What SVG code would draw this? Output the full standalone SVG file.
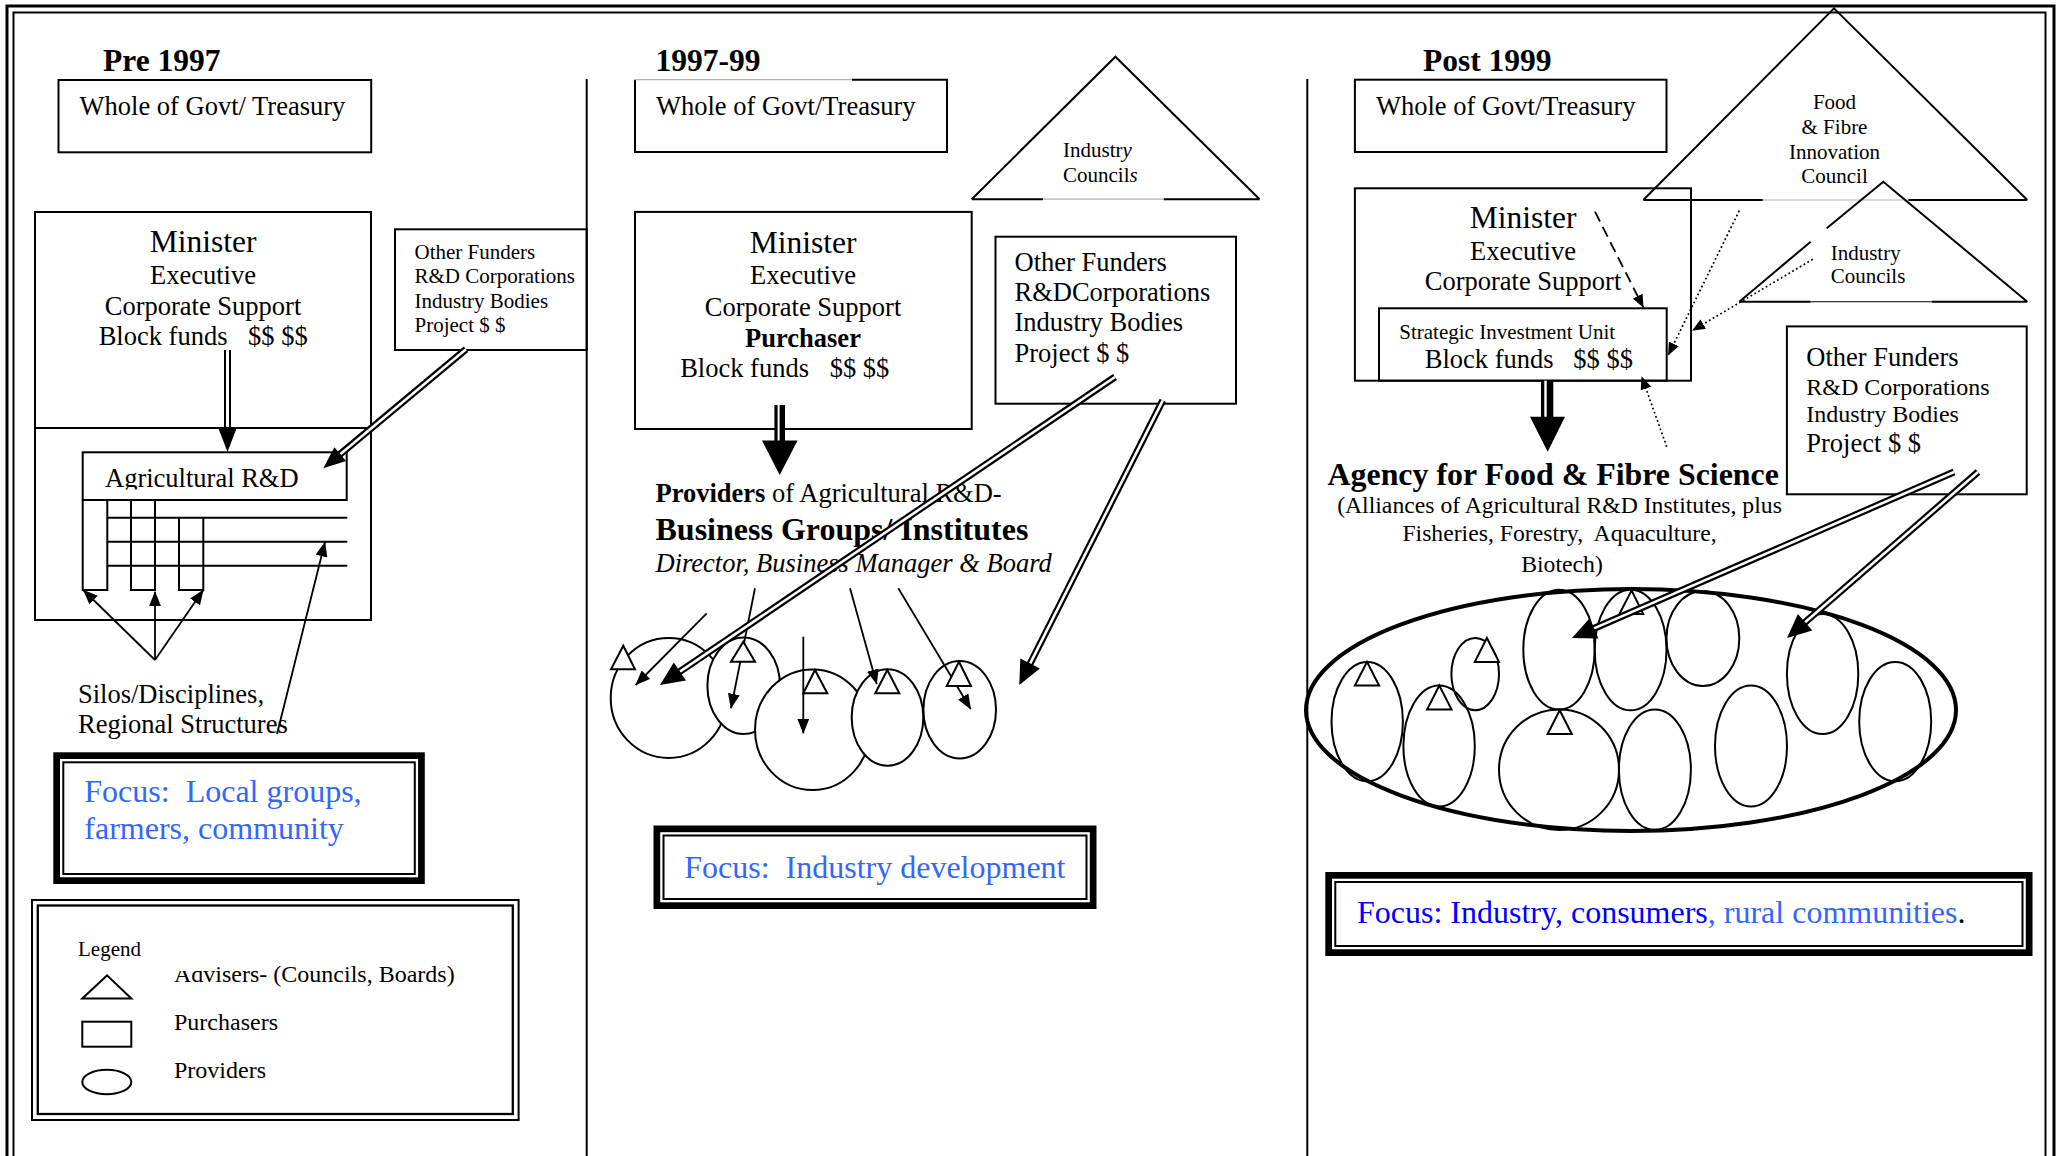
<svg xmlns="http://www.w3.org/2000/svg" width="2062" height="1156" viewBox="0 0 2062 1156">
<style>
.f{font-family:'Liberation Serif','Times New Roman',serif;fill:#000}
.s21{font-size:21px}.s24{font-size:24px}.s23{font-size:23.7px}.s26{font-size:26.5px}.s31{font-size:31.5px}.s32{font-size:32px}
.b{font-weight:bold}.i{font-style:italic}.c{text-anchor:middle}
.ln{fill:none;stroke:#000;stroke-width:2}
.wf{fill:#fff;stroke:#000;stroke-width:2}
.gr{fill:none;stroke:#b0b0b0;stroke-width:1.2}
.ar{fill:none;stroke:#000;stroke-width:1.8}
.dot{fill:none;stroke:#000;stroke-width:1.7;stroke-dasharray:1.8 2.6}
.dsh{fill:none;stroke:#000;stroke-width:1.8;stroke-dasharray:11 6}
.dbo{fill:none;stroke:#000;stroke-width:7}
.dbi{fill:none;stroke:#fff;stroke-width:2.6}
.fo{fill:none;stroke:#000;stroke-width:6.7}
.fi{fill:none;stroke:#000;stroke-width:2}
.bl{fill:#3366ff}.bd{fill:#0000ff}
</style>
<defs>
<marker id="ah" markerUnits="userSpaceOnUse" viewBox="0 0 15 12" markerWidth="15" markerHeight="12" refX="14.5" refY="6" orient="auto"><path d="M0,0 L15,6 L0,12 z" fill="#000"/></marker>
<marker id="ahs" markerUnits="userSpaceOnUse" viewBox="0 0 13 11" markerWidth="13" markerHeight="11" refX="12.5" refY="5.5" orient="auto"><path d="M0,0 L13,5.5 L0,11 z" fill="#000"/></marker>
<clipPath id="clipAg"><rect x="80" y="450" width="270" height="39.5"/></clipPath>
<clipPath id="clipAdv"><rect x="160" y="971" width="43.5" height="30"/><rect x="203.5" y="950" width="320" height="50"/></clipPath>
</defs>

<g id="frame">
<rect x="7" y="6" width="2047" height="1170" fill="none" stroke="#000" stroke-width="3"/>
<rect x="13.5" y="12.5" width="2032" height="1160" fill="none" stroke="#000" stroke-width="2"/>
<line x1="586.7" y1="79" x2="586.7" y2="1160" stroke="#000" stroke-width="2"/>
<line x1="1307.3" y1="79" x2="1307.3" y2="1160" stroke="#000" stroke-width="2"/>
</g>

<!-- LEFT PANEL -->
<g id="pre1997-title"><text class="f s31 b" x="103" y="71">Pre 1997</text></g>
<g id="pre-treasury">
<rect class="ln" x="58.5" y="80" width="312.7" height="72.3"/>
<text class="f s26" x="79.6" y="115">Whole of Govt/ Treasury</text>
</g>
<g id="pre-minister">
<rect class="ln" x="35" y="212" width="336" height="408"/>
<line class="ln" x1="35" y1="428" x2="371" y2="428"/>
<text class="f s31 c" x="203" y="252">Minister</text>
<text class="f s26 c" x="203" y="283.5">Executive</text>
<text class="f s26 c" x="203" y="315">Corporate Support</text>
<text class="f s26" x="98.7" y="345">Block funds<tspan x="248">$$ $$</tspan></text>
</g>
<g id="pre-agrd">
<rect class="ln" x="82.7" y="452.3" width="264" height="47.7"/>
<text class="f s26" x="105" y="486.7" clip-path="url(#clipAg)">Agricultural R&amp;D</text>
<path class="ln" d="M82.7,500 V590 H107.3 V500 M131,500 V590 H155 V500 M179,517.7 V590 H203.3 V517.7 M107.3,517.7 H347.3 M107.3,541.7 H347.3 M107.3,565.7 H347.3"/>
</g>
<g id="pre-otherfunders">
<rect class="ln" x="395" y="229.3" width="191.7" height="120.7"/>
<text class="f s21" x="414.5" y="259">Other Funders</text>
<text class="f s21" x="414.5" y="283.3">R&amp;D Corporations</text>
<text class="f s21" x="414.5" y="308.3">Industry Bodies</text>
<text class="f s21" x="414.5" y="331.7">Project $ $</text>
</g>
<g id="pre-silos">
<text class="f s26" x="78" y="703" textLength="186" lengthAdjust="spacing">Silos/Disciplines,</text>
<text class="f s26" x="78" y="733">Regional Structures</text>
</g>
<g id="pre-focus">
<rect class="fo" x="56.65" y="755.65" width="364.8" height="125"/>
<rect class="fi" x="63.3" y="762.3" width="351.5" height="111.7"/>
<text class="f s32 bl" x="84.3" y="802.3" xml:space="preserve">Focus:  Local groups,</text>
<text class="f s32 bl" x="84.3" y="839.3">farmers, community</text>
</g>
<g id="legend">
<rect x="32" y="900" width="486.6" height="220" fill="none" stroke="#000" stroke-width="2"/>
<rect x="37.8" y="905.5" width="475" height="208.5" fill="none" stroke="#000" stroke-width="2.3"/>
<text class="f s21" x="78" y="955.5">Legend</text>
<polygon class="ln" points="82.3,998.5 131.3,998.5 107,975.4"/>
<rect class="ln" x="82.3" y="1021.7" width="49" height="25"/>
<ellipse class="ln" cx="106.8" cy="1082" rx="24.5" ry="12.3"/>
<text class="f s24" x="174" y="982" clip-path="url(#clipAdv)">Advisers- (Councils, Boards)</text>
<text class="f s24" x="174" y="1030">Purchasers</text>
<text class="f s24" x="174" y="1078">Providers</text>
</g>
<g id="pre-connectors">
<line class="ln" x1="225" y1="350" x2="225" y2="429"/>
<line class="ln" x1="230" y1="350" x2="230" y2="429"/>
<polygon points="218.3,428 236.7,428 227.5,452" fill="#000"/>
<line class="dbo" x1="466" y1="349.3" x2="339.4" y2="454.8"/>
<line class="dbi" x1="466" y1="349.3" x2="340.2" y2="454.2"/>
<polygon points="323.3,468.3 334.4,447.3 346,461.1" fill="#000"/>
<line class="ar" x1="155" y1="660" x2="83.3" y2="590" marker-end="url(#ah)"/>
<line class="ar" x1="155" y1="660" x2="155" y2="591.7" marker-end="url(#ah)"/>
<line class="ar" x1="155" y1="660" x2="203.3" y2="590" marker-end="url(#ah)"/>
<line class="ar" x1="277" y1="734" x2="325" y2="542" marker-end="url(#ah)"/>
</g>

<!-- MIDDLE PANEL -->
<g id="mid-title"><text class="f s31 b" x="655.5" y="71">1997-99</text></g>
<g id="mid-treasury">
<path class="ln" d="M852,79.7 H947 V152 H635 V79.7"/>
<line class="gr" x1="635" y1="79.7" x2="852" y2="79.7"/>
<text class="f s26" x="656" y="115">Whole of Govt/Treasury</text>
</g>
<g id="mid-industry-councils">
<path class="ln" d="M971.7,199.2 L1115.4,56.7 L1259.6,199.2 M971.7,199.2 H1043 M1163.6,199.2 H1259.6"/>
<line class="gr" x1="1043" y1="199.2" x2="1163.6" y2="199.2"/>
<text class="f s21" x="1063" y="156.5">Industr<tspan class="i">y</tspan></text>
<text class="f s21" x="1063" y="181.5">Council<tspan class="i">s</tspan></text>
</g>
<g id="mid-minister">
<rect class="ln" x="635" y="211.9" width="336.7" height="217.1"/>
<text class="f s31 c" x="803" y="252.7">Minister</text>
<text class="f s26 c" x="803" y="283.5">Executive</text>
<text class="f s26 c" x="803" y="316">Corporate Support</text>
<text class="f s26 c b" x="803" y="346.5">Purchaser</text>
<text class="f s26" x="680.2" y="377.2">Block funds<tspan x="829.7">$$ $$</tspan></text>
</g>
<g id="mid-otherfunders">
<rect class="ln" x="995.5" y="236.7" width="240.5" height="167"/>
<text class="f s26" x="1014.5" y="270.5">Other Funders</text>
<text class="f s26" x="1014.5" y="301">R&amp;DCorporations</text>
<text class="f s26" x="1014.5" y="331.4">Industry Bodies</text>
<text class="f s26" x="1014.5" y="361.8">Project $ $</text>
</g>
<g id="mid-providers">
<text class="f s26" x="655.5" y="502.3"><tspan class="b">Providers</tspan> of Agricultural R&amp;D-</text>
<text class="f s32 b" x="655.5" y="539.5">Business Groups/ Institutes</text>
<text class="f s26 i" x="655.5" y="571.5">Director, Business Manager &amp; Board</text>
</g>
<g id="mid-groups">
<ellipse class="wf" cx="668.7" cy="698" rx="58" ry="60"/>
<ellipse class="wf" cx="743.7" cy="685.7" rx="36.3" ry="48.3"/>
<ellipse class="wf" cx="812.5" cy="729.7" rx="57.5" ry="60.3"/>
<ellipse class="wf" cx="887.5" cy="717.5" rx="35.8" ry="48.2"/>
<ellipse class="wf" cx="959.7" cy="709.7" rx="36.3" ry="48.7"/>
</g>
<g id="mid-connectors">
<line class="ar" x1="706.7" y1="613.3" x2="635.7" y2="685" marker-end="url(#ah)"/>
<line class="ar" x1="755" y1="588.3" x2="731" y2="708.3" marker-end="url(#ah)"/>
<line class="ar" x1="803.3" y1="636.7" x2="803.3" y2="733.3" marker-end="url(#ah)"/>
<line class="ar" x1="850" y1="588.3" x2="876.7" y2="684" marker-end="url(#ah)"/>
<line class="ar" x1="898.3" y1="588.3" x2="970.7" y2="709" marker-end="url(#ah)"/>
</g>
<g id="mid-advisers">
<polygon class="wf" points="611,669.3 635,669.3 623.3,645.7"/>
<polygon class="wf" points="731,661.7 755,661.7 743.3,641.7"/>
<polygon class="wf" points="803.3,693.3 827.3,693.3 815,670"/>
<polygon class="wf" points="875.3,693.3 899.3,693.3 887.3,670"/>
<polygon class="wf" points="946.7,686 971,686 959,661.7"/>
</g>
<g id="mid-funding-arrows">
<rect x="774.4" y="405" width="10.6" height="36" fill="#000"/>
<rect x="777.6" y="405" width="2" height="36" fill="#fff"/>
<polygon points="762,440.5 797.6,440.5 779.7,475" fill="#000"/>
<line class="dbo" x1="1115" y1="377" x2="679" y2="672.2"/>
<line class="dbi" x1="1115" y1="377" x2="679.9" y2="671.6"/>
<polygon points="660,685 673.8,662.5 686,680.6" fill="#000"/>
<line class="dbo" x1="1162.8" y1="400.4" x2="1029.7" y2="664.5"/>
<line class="dbi" x1="1162.8" y1="400.4" x2="1030.1" y2="663.6"/>
<polygon points="1019.3,685 1020.3,658.6 1039.9,668.6" fill="#000"/>
</g>
<g id="mid-focus">
<rect class="fo" x="656.85" y="828.85" width="436.3" height="76.8"/>
<rect class="fi" x="663.5" y="835.5" width="423" height="63.5"/>
<text class="f s32 bl" x="684.2" y="877.5" xml:space="preserve">Focus:  Industry development</text>
</g>

<!-- RIGHT PANEL -->
<g id="post-title"><text class="f s31 b" x="1423" y="71">Post 1999</text></g>
<g id="post-treasury">
<rect class="ln" x="1354.9" y="79.7" width="311.6" height="72.3"/>
<text class="f s26" x="1376" y="115">Whole of Govt/Treasury</text>
</g>
<g id="post-fficouncil">
<path class="ln" d="M1643.3,200 L1834,8.4 L2027.3,200 M1643.3,200 H1762.7 M1908.3,200 H2027.3"/>
<line class="gr" x1="1762.7" y1="200" x2="1908.3" y2="200"/>
<text class="f s21 c" x="1834.5" y="109">Food</text>
<text class="f s21 c" x="1834.5" y="134">&amp; Fibre</text>
<text class="f s21 c" x="1834.5" y="158.5">Innovation</text>
<text class="f s21 c" x="1834.5" y="182.7">Council</text>
</g>
<g id="post-industry-councils">
<path class="ln" d="M1826.7,228.3 L1883.3,181.7 L2027.3,301.7 M1810.7,241.7 L1739.3,301.7 M1739.3,301.7 H1810.7 M1931.7,301.7 H2027.3"/>
<line x1="1810.7" y1="301.7" x2="1931.7" y2="301.7" stroke="#000" stroke-width="1.1"/>
<text class="f s21" x="1830.7" y="260">Industry</text>
<text class="f s21" x="1830.7" y="283.3">Councils</text>
</g>
<g id="post-minister">
<rect class="ln" x="1354.9" y="188.3" width="336.1" height="192.4"/>
<text class="f s31 c" x="1523" y="228.3">Minister</text>
<text class="f s26 c" x="1523" y="259.5">Executive</text>
<text class="f s26 c" x="1523" y="289.7">Corporate Support</text>
</g>
<g id="post-siu">
<rect class="ln" x="1379" y="308.3" width="287.7" height="72.4"/>
<text class="f s21" x="1399.3" y="339.2">Strategic Investment Unit</text>
<text class="f s26" x="1424.8" y="368">Block funds<tspan x="1573.3">$$ $$</tspan></text>
</g>
<g id="post-agency">
<text class="f b" style="font-size:31.9px" x="1327.5" y="485">Agency for Food &amp; Fibre Science</text>
<text class="f s23 c" x="1559.5" y="513.2">(Alliances of Agricultural R&amp;D Institutes, plus</text>
<text class="f s23 c" x="1559.5" y="541.3" xml:space="preserve">Fisheries, Forestry,  Aquaculture,</text>
<text class="f s23 c" x="1562" y="571.7">Biotech)</text>
</g>
<g id="post-otherfunders">
<rect class="ln" x="1786.9" y="326.4" width="239.8" height="167.9"/>
<text class="f s26" x="1806.3" y="366">Other Funders</text>
<text class="f s24" x="1806.3" y="394.6">R&amp;D Corporations</text>
<text class="f s24" x="1806.3" y="421.7">Industry Bodies</text>
<text class="f s26" x="1806.3" y="452.2">Project $ $</text>
</g>
<g id="post-alliance">
<ellipse cx="1631" cy="710" rx="325" ry="121" fill="none" stroke="#000" stroke-width="4"/>
<ellipse class="ln" cx="1367.2" cy="721.6" rx="35.7" ry="59.7"/>
<ellipse class="ln" cx="1439.1" cy="746" rx="35.7" ry="60.5"/>
<ellipse class="ln" cx="1475.2" cy="674.1" rx="23.8" ry="36.1"/>
<ellipse class="ln" cx="1559" cy="649.6" rx="35.7" ry="59.9"/>
<ellipse class="ln" cx="1630.6" cy="650" rx="35.9" ry="60.3"/>
<ellipse class="ln" cx="1702.9" cy="638.5" rx="36.4" ry="47.5"/>
<ellipse class="ln" cx="1559" cy="769.7" rx="60" ry="60.3"/>
<ellipse class="ln" cx="1654.9" cy="769.7" rx="36" ry="60.3"/>
<ellipse class="ln" cx="1751" cy="746" rx="36" ry="60.5"/>
<ellipse class="ln" cx="1822.6" cy="674" rx="35.7" ry="60"/>
<ellipse class="ln" cx="1895.2" cy="721.6" rx="36" ry="59.7"/>
<polygon class="wf" points="1354.9,685.5 1379.1,685.5 1367,661.9"/>
<polygon class="wf" points="1427.2,709.4 1451.5,709.4 1439.3,685.5"/>
<polygon class="wf" points="1474.8,661.9 1499,661.9 1486.9,638"/>
<polygon class="wf" points="1619.4,614 1643.2,614 1631.6,590.4"/>
<polygon class="wf" points="1547.6,734.1 1571.8,734.1 1559.7,710.2"/>
</g>
<g id="post-connectors">
<rect x="1541" y="380.7" width="12.3" height="36.5" fill="#000"/>
<rect x="1544.3" y="380.7" width="2.4" height="36.5" fill="#fff"/>
<polygon points="1530,416.7 1565,416.7 1547.7,451.7" fill="#000"/>
<line class="dsh" x1="1595" y1="211.7" x2="1643.3" y2="307.3" marker-end="url(#ahs)"/>
<line class="dot" x1="1739.3" y1="210.7" x2="1668.3" y2="355" marker-end="url(#ahs)"/>
<line class="dot" x1="1812.7" y1="259.3" x2="1692.5" y2="330.5" marker-end="url(#ahs)"/>
<line class="dot" x1="1666.7" y1="446.7" x2="1641.7" y2="376.7" marker-end="url(#ahs)"/>
<line class="dbo" x1="1954" y1="472" x2="1593.2" y2="628.8"/>
<line class="dbi" x1="1954" y1="472" x2="1594" y2="628.4"/>
<polygon points="1572,638 1589.6,618.3 1598.4,638.5" fill="#000"/>
<line class="dbo" x1="1978" y1="472" x2="1804.4" y2="622.9"/>
<line class="dbi" x1="1978" y1="472" x2="1805.1" y2="622.3"/>
<polygon points="1787,638 1797.9,614 1812.3,630.6" fill="#000"/>
</g>
<g id="post-focus">
<rect class="fo" x="1328.65" y="875.35" width="700.5" height="77.3"/>
<rect class="fi" x="1335.3" y="882" width="687.2" height="64"/>
<text class="f s32" x="1357" y="923"><tspan class="bd">Focus: Industry, consumers</tspan><tspan class="bl">, rural communities</tspan>.</text>
</g>
</svg>
